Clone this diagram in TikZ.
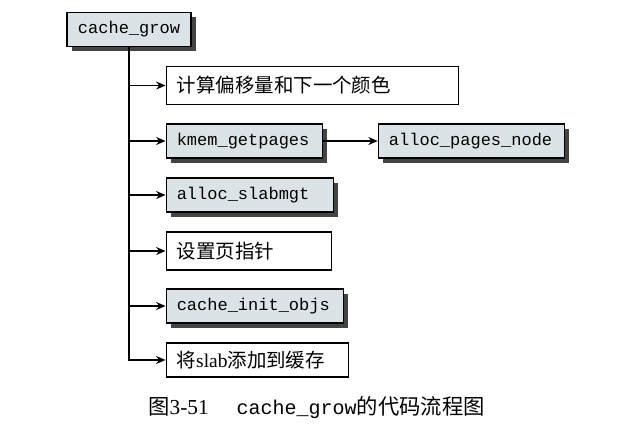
\documentclass[tikz,border=0pt]{standalone}
\usepackage{fontspec}
\setmainfont{Liberation Serif}
\setmonofont{Liberation Mono}
\newfontfamily\cjk{Noto Sans CJK SC}
\usetikzlibrary{arrows.meta,positioning,shadows}
\definecolor{boxfill}{RGB}{220,227,230}
\definecolor{shadowgray}{RGB}{68,68,68}

\begin{document}
\begin{tikzpicture}[
  x=0.75pt, y=-0.75pt,
  block/.style={draw, line width=0.9pt, anchor=west, inner xsep=8pt, align=left, text width=#1, minimum height=25.5pt},
  func/.style={block=#1, fill=boxfill, font=\ttfamily\fontsize{12.75}{14}\selectfont,
    drop shadow={shadow xshift=3.75pt, shadow yshift=-3.75pt, fill=shadowgray, opacity=1}},
  task/.style={block=#1, fill=white, font=\fontsize{14.6}{16}\selectfont},
  arrow/.style={line width=1.1pt, -{Stealth[length=7pt,width=6pt]}}
]
\useasboundingbox (0,0) rectangle (637,427);
\node[func=77pt, anchor=center, align=center] (grow) at (129,29.5) {cache\_grow};
\node[task=203pt, minimum height=29pt] (offset) at (165.5,85.5) {\cjk 计算偏移量和下一个颜色};
\node[func=101pt] (kmem) at (165.5,141) {kmem\_getpages};
\node[func=123.5pt, right=41.25pt of kmem] (pagesnode) {alloc\_pages\_node};
\node[func=109.25pt] (slabmgt) at (165.5,195) {alloc\_slabmgt};
\node[task=107.75pt, minimum height=28.5pt] (setpage) at (165.5,251) {\cjk 设置页指针};
\node[func=116.75pt] (initobjs) at (165.5,306) {cache\_init\_objs};
\node[task=120.5pt] (addslab) at (165.5,360) {{\cjk 将}slab{\cjk 添加到缓存}};
\node[anchor=west, inner sep=0pt, font=\fontsize{16}{18}\selectfont] (caption) at (148,408)
  {{\cjk 图}3-51\hspace{21pt}{\ttfamily\fontsize{15}{18}\selectfont cache\_grow}{\cjk 的代码流程图}};
\draw[arrow] (grow.south) |- (addslab.west);
\foreach \n in {offset,kmem,slabmgt,setpage,initobjs}
  \draw[arrow] (grow.south |- \n.west) -- (\n.west);
\draw[arrow] (kmem) -- (pagesnode);
\end{tikzpicture}
\end{document}
